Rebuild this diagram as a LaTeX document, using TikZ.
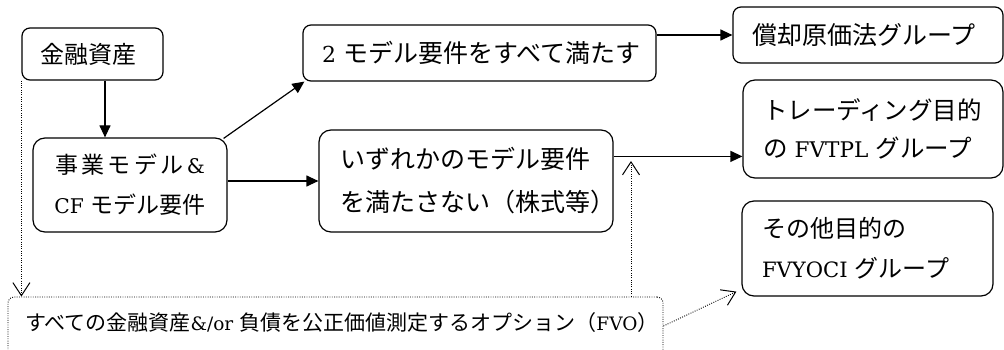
\documentclass[tikz,border=0pt]{standalone}
\usepackage{fontspec}
\setmainfont{DejaVu Serif}[Scale=0.88]
\newfontfamily\jp{Noto Sans CJK JP}
\usetikzlibrary{arrows.meta}
\newcommand\J[1]{{\jp #1}}
\newcommand\fs[2]{\fontsize{#1}{#2}\selectfont}
\begin{document}
\begin{tikzpicture}[x=1pt,y=-1pt,
  box/.style={draw, line width=1.2pt, rounded corners=#1, inner ysep=0pt},
  box/.default=8pt,
  arr/.style={line width=1.2pt, -{Triangle[length=12pt,width=11pt]}},
  dotarr/.style={line width=0.9pt, dash pattern=on 0.9pt off 1.4pt,
    -{Straight Barb[length=13pt,width=17pt,line width=1pt]}},
  dotbox/.style={draw, line width=0.9pt, dash pattern=on 0.9pt off 1.4pt, rounded corners=6pt}
]
\useasboundingbox (0,0) rectangle (1004,350);
\clip (0,0) rectangle (1004,350);

\node[box, minimum width=141pt, minimum height=52pt, inner xsep=18pt,
  text width=105pt, align=left, font=\fs{24}{30}] (A) at (92.5,54) {\mbox{\J{金融資産}}};

\node[box=12pt, minimum height=94pt, inner xsep=0pt, text width=194pt,
  align=center, font=\fs{23}{40}] (B) at (130,185)
  {\makebox[150pt]{\jp 事\hfill 業\hfill モ\hfill デ\hfill ル\hfill{\rmfamily\&}}\\
   \mbox{CF \J{モデル要件}}};

\node[box, minimum height=56pt, inner xsep=19pt, text width=315pt,
  align=left, font=\fs{25}{30}] (C) at (479.5,53) {\mbox{2 \J{モデル要件をすべて満たす}}};

\node[box=12pt, minimum height=102pt, inner xsep=21pt, text width=252pt,
  align=left, font=\fs{25}{43}] (D) at (466,181)
  {\mbox{\J{いずれかのモデル要件}}\\\mbox{\J{を満たさない（株式等）}}};

\node[box, minimum height=56pt, inner xsep=19pt, text width=232pt,
  align=left, font=\fs{25}{30}] (E) at (868,35) {\mbox{\J{償却原価法グループ}}};

\node[box=12pt, minimum height=98pt, inner xsep=20pt, text width=220pt,
  align=left, font=\fs{24.5}{38}] (F) at (873,129)
  {\mbox{\J{トレーディング目的}}\\\mbox{\J{の} FVTPL \J{グループ}}};

\node[box=12pt, minimum height=95pt, inner xsep=20pt, text width=211pt,
  align=left, font=\fs{24}{40}] (G) at (867.5,248.5)
  {\mbox{\J{その他目的の}}\\\mbox{FVYOCI \J{グループ}}};

\node[dotbox, inner xsep=17pt, inner ysep=13pt, text width=621pt,
  text height=20pt, text depth=20pt, align=left, font=\fs{21}{24}] (H) at (335.5,330)
  {\mbox{\J{すべての金融資産}\&/or \J{負債を公正価値測定するオプション（}FVO\J{）}}};

\coordinate (up) at (631,161);

\draw[arr] ([xshift=12.5pt]A.south) -- ([xshift=12.5pt]A.south |- B.north);
\draw[arr] ([xshift=-4pt,yshift=-1pt]B.north east) -- ([xshift=2pt]C.south west);
\draw[arr] (B.east |- D.west) -- (D.west);
\draw[arr] (C.east |- E.west) -- (E.west);
\draw[arr] ([yshift=-27pt]D.north east) -- ([yshift=-27pt]D.north east -| F.west);
\draw[dotarr] (A.south west) -- (A.south west |- H.north);
\draw[dotarr] (up |- H.north) -- (up);
\draw[dotarr] ([yshift=4pt]H.east) -- ([xshift=-5pt,yshift=5pt]G.south west);
\end{tikzpicture}
\end{document}
